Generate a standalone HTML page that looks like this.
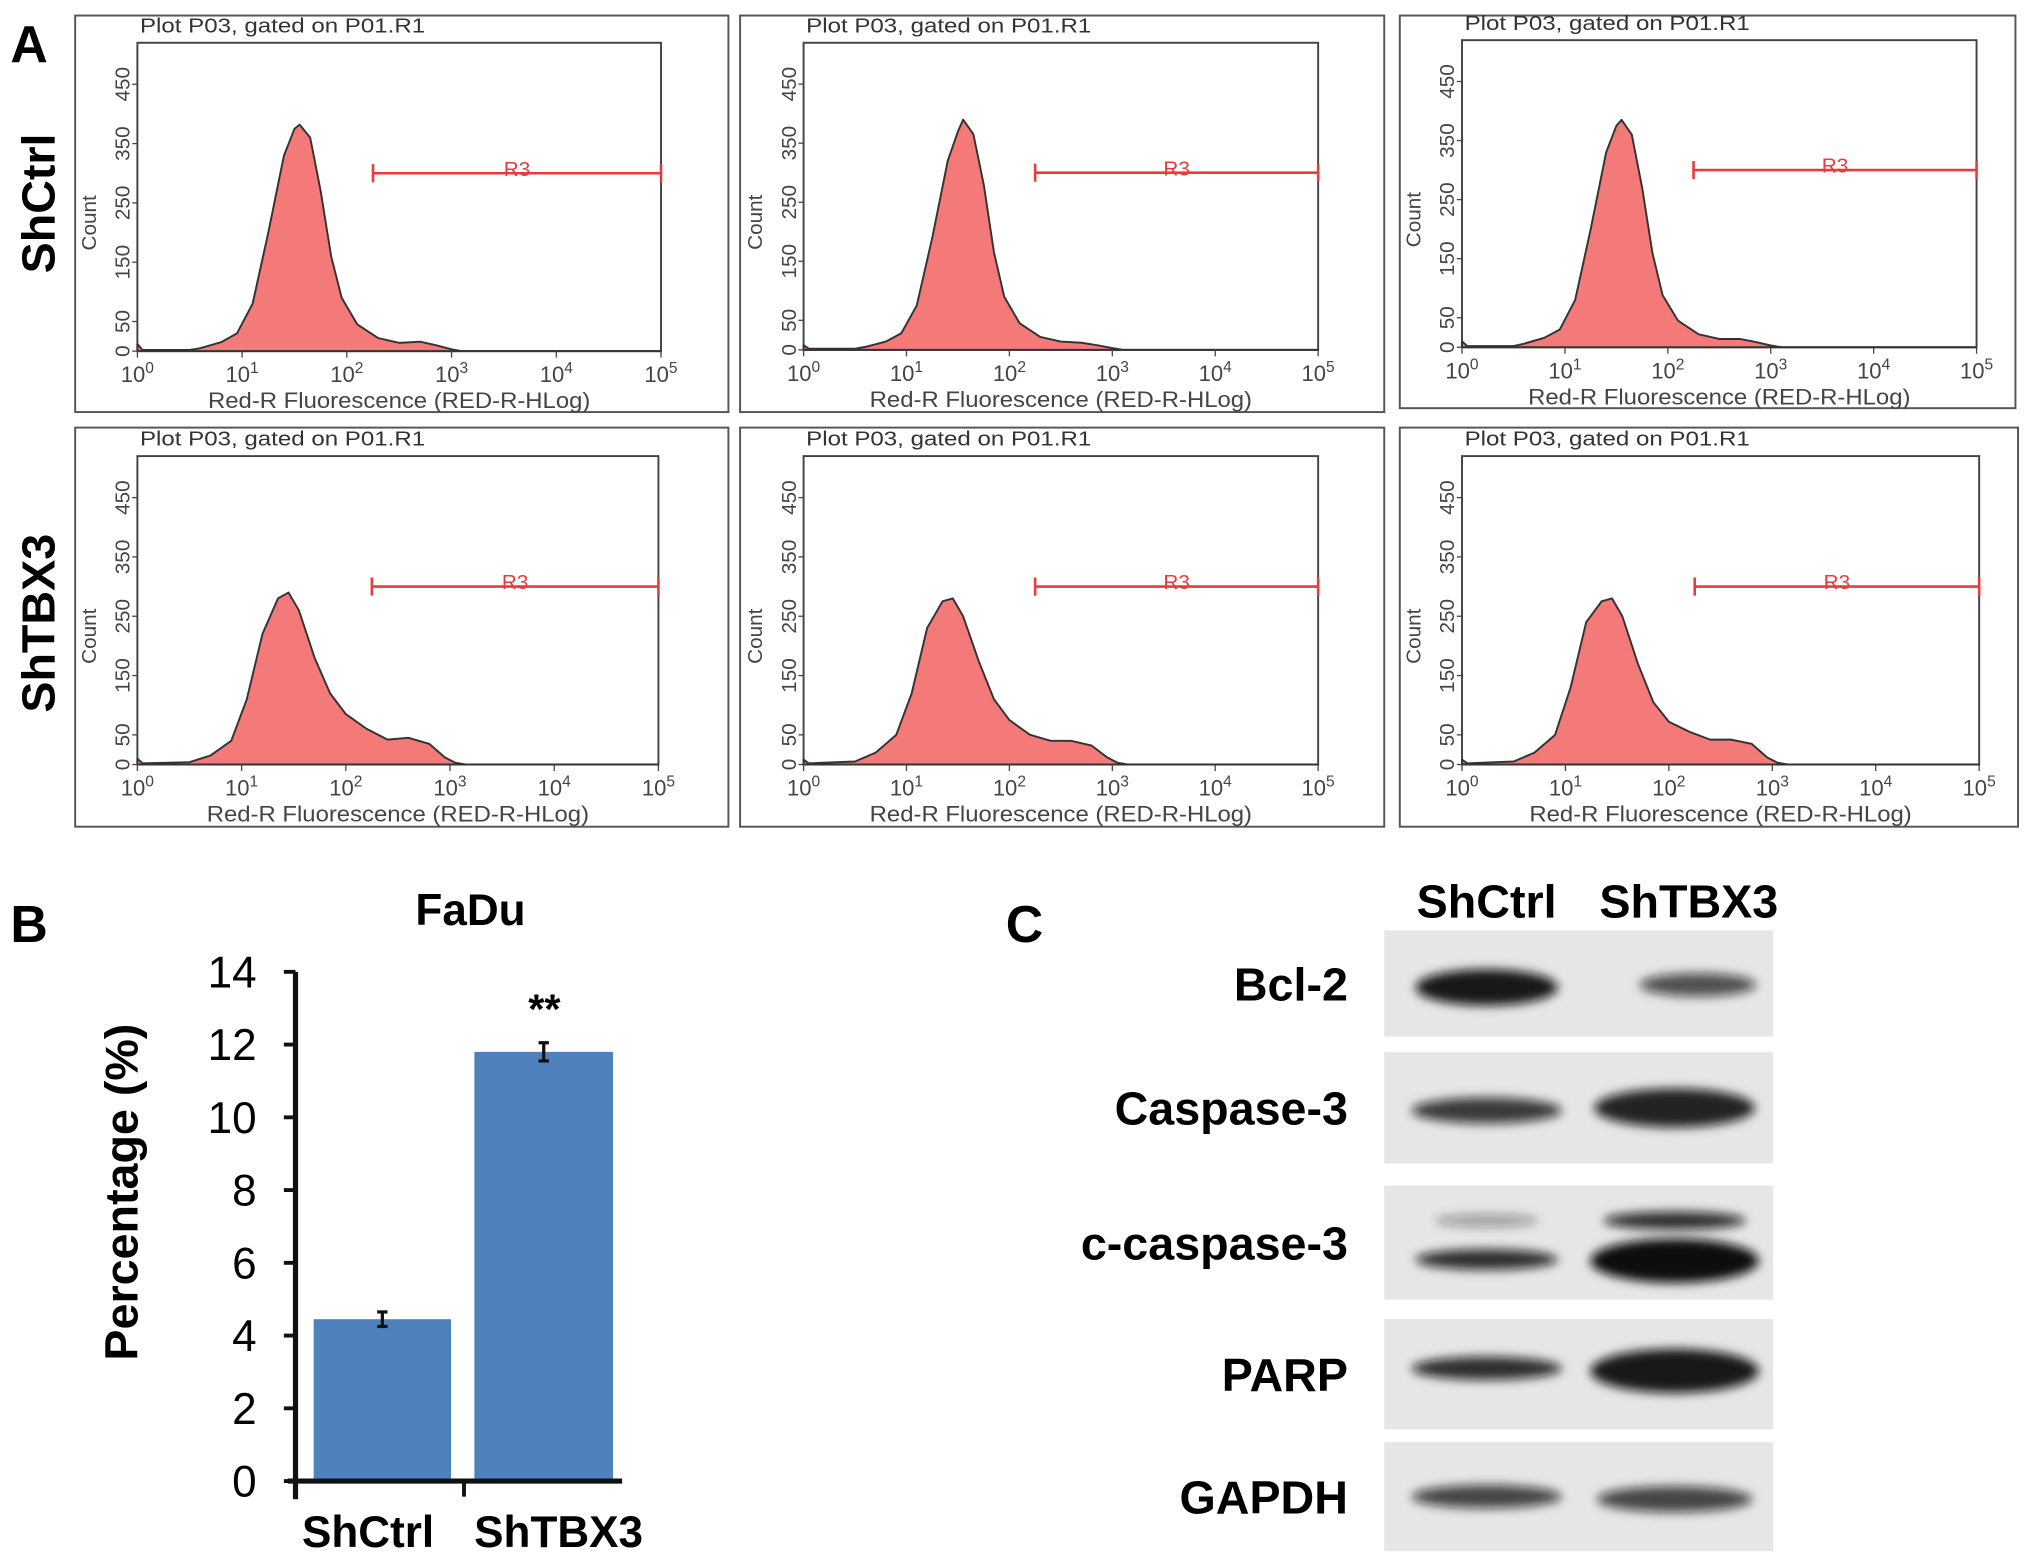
<!DOCTYPE html>
<html><head><meta charset="utf-8"><style>
html,body{margin:0;padding:0;background:#fff;}
svg{display:block;font-family:"Liberation Sans",sans-serif;}
</style></head><body>
<svg id="fig" width="2031" height="1564" viewBox="0 0 1567 1207" preserveAspectRatio="none" xmlns="http://www.w3.org/2000/svg">
<defs><filter id="blur" x="-30%" y="-100%" width="160%" height="300%"><feGaussianBlur stdDeviation="4"/></filter></defs>
<rect width="1567" height="1207" fill="#fff"/>
<text x="8" y="48" font-size="40" font-weight="bold">A</text>
<text transform="translate(42,157) rotate(-90)" text-anchor="middle" font-size="36" font-weight="bold">ShCtrl</text>
<text transform="translate(42,481) rotate(-90)" text-anchor="middle" font-size="36" font-weight="bold">ShTBX3</text>
<g id="hists"></g>
<g id="bar"></g>
<g id="blot"></g>
</svg>
<script>
// ---- Flow cytometry histogram data (log10 fluorescence, count) ----
const histLogX = [0,0.05,0.5,0.6,0.8,0.95,1.1,1.25,1.4,1.5,1.55,1.65,1.75,1.85,1.95,2.1,2.3,2.5,2.7,2.85,3.0,3.1];
const histCtrl1 = [12,2,2,5,15,30,80,200,330,375,382,360,270,160,90,45,22,14,16,10,3,0];
const histCtrl2 = [8,2,2,5,14,28,75,190,320,370,390,365,280,165,90,45,22,14,12,8,3,0];
const histCtrl3 = [10,2,2,6,16,30,80,200,330,375,385,360,270,160,88,45,22,14,14,9,3,0];
const histLogX2 = [0,0.05,0.5,0.7,0.9,1.05,1.2,1.35,1.45,1.55,1.7,1.85,2.0,2.2,2.4,2.6,2.8,2.95,3.05,3.15];
const histTbx1 = [10,2,4,15,40,110,220,280,290,260,180,120,85,60,42,45,35,12,3,0];
const histTbx2 = [8,2,5,20,50,120,230,275,280,250,175,110,75,50,40,40,32,12,3,0];
const histTbx3 = [8,2,5,20,50,130,240,275,280,250,170,105,72,55,42,42,35,12,3,0];
const countTicks = [0,50,150,250,350,450];
const decadeTicks = [0,1,2,3,4,5];
const gateRange = [2.25,5];
const gateCount = 300;

const panels = [
 {box:[58,12,504,306], pl:106,pr:510,pt:33,pb:271, xs:histLogX, ys:histCtrl1, name:'histogram-shctrl-1'},
 {box:[571,12,497,306], pl:620,pr:1017,pt:33,pb:270, xs:histLogX, ys:histCtrl2, name:'histogram-shctrl-2'},
 {box:[1080,12,475,303], pl:1128,pr:1525,pt:31,pb:268, xs:histLogX, ys:histCtrl3, name:'histogram-shctrl-3'},
 {box:[58,330,504,308], pl:106,pr:508,pt:352,pb:590, xs:histLogX2, ys:histTbx1, name:'histogram-shtbx3-1'},
 {box:[571,330,497,308], pl:620,pr:1017,pt:352,pb:590, xs:histLogX2, ys:histTbx2, name:'histogram-shtbx3-2'},
 {box:[1080,330,477,308], pl:1128,pr:1527,pt:352,pb:590, xs:histLogX2, ys:histTbx3, name:'histogram-shtbx3-3'}
];
const NS='http://www.w3.org/2000/svg';
function mk(tag,attrs,parent,text){const e=document.createElementNS(NS,tag);for(const k in attrs)e.setAttribute(k,attrs[k]);if(text!==undefined)e.textContent=text;parent.appendChild(e);return e;}
const hg=document.getElementById('hists');
panels.forEach(p=>{
  const g=mk('g',{},hg);
  
  
  const X=v=>p.pl+(p.pr-p.pl)*v/5;
  const Y=c=>p.pb-(p.pb-p.pt)*c/520;
  mk('rect',{x:p.box[0],y:p.box[1],width:p.box[2],height:p.box[3],fill:'none',stroke:'#555','stroke-width':1.5},g);
  const t=mk('text',{x:p.pl+2,y:p.pt-8,'font-size':16,fill:'#333',textLength:220,lengthAdjust:'spacingAndGlyphs'},g,'Plot P03, gated on P01.R1');
  
  
  mk('rect',{x:p.pl,y:p.pt,width:p.pr-p.pl,height:p.pb-p.pt,fill:'none',stroke:'#444','stroke-width':1.5},g);
  let d='M'+X(p.xs[0])+','+Y(0);
  p.xs.forEach((v,i)=>{d+=' L'+X(v).toFixed(1)+','+Y(p.ys[i]).toFixed(1);});
  d+=' L'+X(5)+','+Y(0)+'Z';
  const h=mk('path',{d:d,fill:'#f47a7a',stroke:'#333','stroke-width':1.5,'stroke-linejoin':'round'},g);
  
  
  countTicks.forEach(c=>{
    mk('line',{x1:p.pl-4,x2:p.pl,y1:Y(c),y2:Y(c),stroke:'#444'},g);
    const l=mk('text',{transform:`translate(${p.pl-6},${Y(c)}) rotate(-90)`,'text-anchor':'middle','font-size':16,fill:'#444'},g,String(c));
    
    
  });
  const yt=mk('text',{transform:`translate(${p.pl-32},${(p.pt+p.pb)/2+20}) rotate(-90)`,'text-anchor':'middle','font-size':16,fill:'#444'},g,'Count');
  
  
  decadeTicks.forEach(k=>{
    mk('line',{x1:X(k),x2:X(k),y1:p.pb,y2:p.pb+5,stroke:'#444'},g);
    const l=mk('text',{x:X(k),y:p.pb+24,'text-anchor':'middle','font-size':17,fill:'#444'},g);
    
    
    l.appendChild(document.createTextNode('10'));
    mk('tspan',{dy:-7,'font-size':12},l,String(k));
  });
  const xt=mk('text',{x:(p.pl+p.pr)/2,y:p.pb+44,'text-anchor':'middle','font-size':17,fill:'#444',textLength:295,lengthAdjust:'spacingAndGlyphs'},g,'Red-R Fluorescence (RED-R-HLog)');
  
  
  const gy=Y(gateCount), gx1=X(gateRange[0]), gx2=X(gateRange[1]);
  const gate=mk('g',{stroke:'#e83b3b','stroke-width':2},g);
  
  
  mk('line',{x1:gx1,x2:gx2,y1:gy,y2:gy},gate);
  mk('line',{x1:gx1,x2:gx1,y1:gy-7,y2:gy+7},gate);
  mk('line',{x1:gx2,x2:gx2,y1:gy-7,y2:gy+7},gate);
  mk('text',{x:(gx1+gx2)/2,y:gy+2,'text-anchor':'middle','font-size':16,fill:'#e83b3b',stroke:'none'},g,'R3');
});

// ---- Bar chart B ----
const barCats = ['ShCtrl','ShTBX3'];
const barVals = [4.45,11.8];
const barErr = [0.2,0.25];
const yTicks = [0,2,4,6,8,10,12,14];
const bg=document.getElementById('bar');
const by0=1143, by14=750, bax=228;
const BY=v=>by0-(by0-by14)*v/14;
const barX=[242,366], barW=[106,107];
mk('text',{x:8,y:727,'font-size':40,'font-weight':'bold'},bg,'B');
const ft=mk('text',{x:363,y:714,'text-anchor':'middle','font-size':34,'font-weight':'bold'},bg,'FaDu');


barVals.forEach((v,i)=>{
  const r=mk('rect',{x:barX[i],y:BY(v),width:barW[i],height:by0-BY(v),fill:'#4f81bd'},bg);
  
  
  const cx=barX[i]+barW[i]/2;
  const e=mk('g',{stroke:'#111','stroke-width':2.5},bg);
  
  
  mk('line',{x1:cx,x2:cx,y1:BY(v+barErr[i]),y2:BY(v-barErr[i])},e);
  mk('line',{x1:cx-4,x2:cx+4,y1:BY(v+barErr[i]),y2:BY(v+barErr[i])},e);
  mk('line',{x1:cx-4,x2:cx+4,y1:BY(v-barErr[i]),y2:BY(v-barErr[i])},e);
  const xl=mk('text',{x:[284,431][i],y:1194,'text-anchor':'middle','font-size':34,'font-weight':'bold'},bg,barCats[i]);
  
  
});
const sig=mk('text',{x:420,y:790,'text-anchor':'middle','font-size':32,'font-weight':'bold'},bg,'**');


mk('line',{x1:bax,x2:bax,y1:by14,y2:by0+14,stroke:'#111','stroke-width':4},bg);
mk('line',{x1:bax-6,x2:480,y1:by0,y2:by0,stroke:'#111','stroke-width':4},bg);
mk('line',{x1:358,x2:358,y1:by0,y2:by0+12,stroke:'#111','stroke-width':3},bg);
yTicks.forEach(v=>{
  mk('line',{x1:bax-9,x2:bax,y1:BY(v),y2:BY(v),stroke:'#111','stroke-width':3},bg);
  const l=mk('text',{x:bax-30,y:BY(v)+12,'text-anchor':'end','font-size':34},bg,String(v));
  
  
});
const ytt=mk('text',{transform:'translate(106,920) rotate(-90)','text-anchor':'middle','font-size':36,'font-weight':'bold'},bg,'Percentage (%)');



// ---- Western blot C ----
const wb=document.getElementById('blot');
mk('text',{x:776,y:727,'font-size':40,'font-weight':'bold'},wb,'C');
[['ShCtrl',1147],['ShTBX3',1303]].forEach(([t,x])=>{
  const h=mk('text',{x:x,y:708,'text-anchor':'middle','font-size':36,'font-weight':'bold'},wb,t);
  
  
});
const rows=[
 {n:'Bcl-2',y:718,h:82,bands:[[1147,762,55,14,.95],[1310,760,45,9,.7]]},
 {n:'Caspase-3',y:812,h:86,bands:[[1147,857,58,10,.8],[1292,855,62,15,.9]]},
 {n:'c-caspase-3',y:915,h:88,bands:[[1147,942,40,5,.35],[1147,972,55,8,.85],[1292,942,55,7,.85],[1292,973,65,17,1]]},
 {n:'PARP',y:1018,h:85,bands:[[1147,1056,58,9,.85],[1292,1058,65,17,.95]]},
 {n:'GAPDH',y:1113,h:84,bands:[[1147,1155,58,9,.75],[1292,1157,60,10,.75]]}
];
rows.forEach(r=>{
  const g=mk('g',{},wb);
  
  
  mk('rect',{x:1068,y:r.y,width:300,height:r.h,fill:'#e6e6e6'},g);
  r.bands.forEach(b=>mk('ellipse',{cx:b[0],cy:b[1],rx:b[2],ry:b[3],fill:'#111','fill-opacity':b[4],filter:'url(#blur)'},g));
  const l=mk('text',{x:1040,y:r.y+r.h/2+13,'text-anchor':'end','font-size':36,'font-weight':'bold'},wb,r.n);
  
  
});
</script>
</body></html>
